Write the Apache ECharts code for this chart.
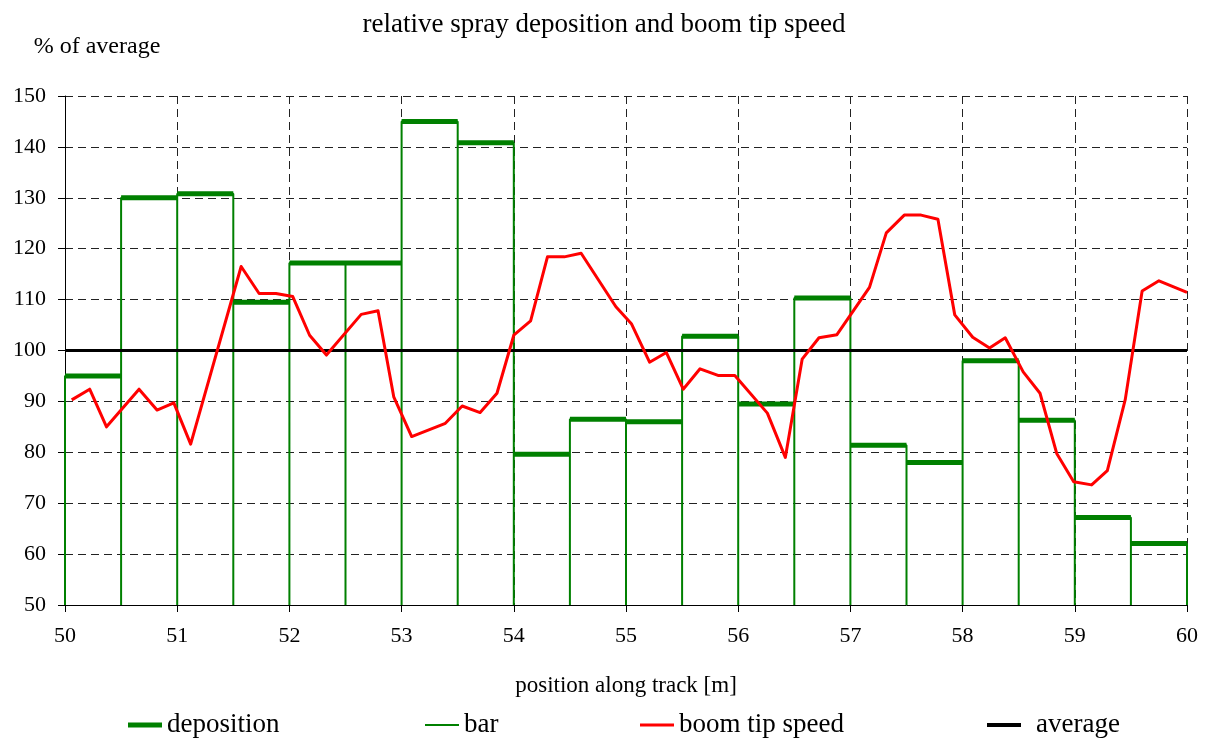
<!DOCTYPE html>
<html>
<head>
<meta charset="utf-8">
<script src="https://cdn.jsdelivr.net/npm/echarts@6/dist/echarts.min.js"></script>
<style>
html,body{margin:0;padding:0;background:#fff;}
#chart{width:1208px;height:738px;}
</style>
</head>
<body>
<div id="chart"></div>
<script>
// ---- data ----
const segmentStarts = [50,50.5,51,51.5,52,52.5,53,53.5,54,54.5,55,55.5,56,56.5,57,57.5,58,58.5,59,59.5];
const segmentWidth = 0.5;
const depositionValues = [95.0,130.0,130.8,109.5,117.2,117.2,145.0,140.8,79.6,86.5,86.0,102.8,89.5,110.3,81.4,78.0,98.0,86.3,67.2,62.1];
const speedPositions = [50.06,50.22,50.37,50.66,50.82,50.97,51.12,51.57,51.73,51.88,52.03,52.18,52.33,52.64,52.79,52.93,53.09,53.39,53.54,53.70,53.85,54.00,54.15,54.30,54.45,54.60,54.91,55.05,55.21,55.36,55.51,55.66,55.82,55.97,56.26,56.42,56.57,56.72,56.88,57.17,57.32,57.48,57.63,57.78,57.93,58.09,58.24,58.38,58.54,58.69,58.84,58.99,59.15,59.29,59.45,59.60,59.75,60.00];
const speedValues = [90.3,92.4,85.0,92.4,88.3,89.7,81.6,116.5,111.2,111.2,110.6,103.0,99.1,107.1,107.8,90.9,83.1,85.7,89.1,87.8,91.6,103.0,105.8,118.4,118.4,119.1,108.6,105.2,97.7,99.6,92.4,96.4,95.1,95.1,87.7,79.0,98.3,102.5,103.1,112.4,123.1,126.6,126.6,125.8,107.0,102.6,100.5,102.5,95.8,91.6,79.7,74.2,73.6,76.4,90.4,111.7,113.7,111.4];
const averageLevel = 100;
const xRange = [50, 60];
const yRange = [50, 150];
const seriesNames = ['deposition','bar','boom tip speed','average'];

// ---- build series data ----
const depositionData = [];
const barData = [];
segmentStarts.forEach((x0, i) => {
  const x1 = x0 + segmentWidth;
  const v = depositionValues[i];
  depositionData.push([x0, v], [x1, v], [x1, '-']);
  barData.push([x0, yRange[0]], [x0, v], [x1, v], [x1, yRange[0]], [x1, '-']);
});
const speedData = speedPositions.map((x, i) => [x, speedValues[i]]);
const averageData = [[xRange[0], averageLevel], [xRange[1], averageLevel]];

const FONT = 'Liberation Serif';
const GREEN = '#008000';

function legendAt(name, left, h, color, extraPad) {
  return {
    data: [{ name: name, icon: 'rect' }],
    left: left, top: 710, padding: 0,
    itemWidth: 34, itemHeight: h,
    itemStyle: { color: color, borderWidth: 0 },
    textStyle: { fontFamily: FONT, fontSize: 27, color: '#000', lineHeight: 30, padding: [0, 0, 0, extraPad || 0] },
    selectedMode: false
  };
}

const chart = echarts.init(document.getElementById('chart'), null, { renderer: 'canvas' });
chart.setOption({
  animation: false,
  backgroundColor: '#fff',
  title: {
    text: 'relative spray deposition and boom tip speed',
    left: 'center', top: 6,
    textStyle: { fontFamily: FONT, fontSize: 27, fontWeight: 'normal', color: '#000' }
  },
  legend: [
    legendAt(seriesNames[0], 128, 5, GREEN),
    legendAt(seriesNames[1], 425, 2, GREEN),
    legendAt(seriesNames[2], 640, 3, '#ff0000'),
    legendAt(seriesNames[3], 987, 4, '#000', 10)
  ],
  grid: { left: 65, right: 21, top: 96, bottom: 133, containLabel: false },
  xAxis: {
    type: 'value', min: xRange[0], max: xRange[1], interval: 1,
    name: 'position along track [m]', nameLocation: 'middle', nameGap: 69,
    nameTextStyle: { fontFamily: FONT, fontSize: 23, color: '#000' },
    axisLine: { lineStyle: { color: '#000', width: 1 } },
    axisTick: { show: true, length: 7, lineStyle: { color: '#000' } },
    axisLabel: { fontFamily: FONT, fontSize: 22, color: '#000', margin: 20 },
    splitLine: { show: true, lineStyle: { color: '#222', width: 1, type: [8, 5] } }
  },
  yAxis: {
    type: 'value', min: yRange[0], max: yRange[1], interval: 10,
    name: '% of average', nameLocation: 'end', nameGap: 37,
    nameTextStyle: { fontFamily: FONT, fontSize: 24, color: '#000', align: 'center', padding: [0, 0, 0, 64] },
    axisLine: { show: true, lineStyle: { color: '#000', width: 1 } },
    axisTick: { show: true, length: 7, lineStyle: { color: '#000' } },
    axisLabel: { fontFamily: FONT, fontSize: 22, color: '#000', margin: 19 },
    splitLine: { show: true, lineStyle: { color: '#222', width: 1, type: [8, 5] } }
  },
  series: [
    {
      name: seriesNames[1], type: 'line', data: barData, showSymbol: false, symbol: 'none',
      color: GREEN, itemStyle: { color: GREEN },
      lineStyle: { color: GREEN, width: 2 }, z: 2, clip: false
    },
    {
      name: seriesNames[0], type: 'line', data: depositionData, showSymbol: false, symbol: 'none',
      color: GREEN, itemStyle: { color: GREEN },
      lineStyle: { color: GREEN, width: 5 }, z: 3
    },
    {
      name: seriesNames[3], type: 'line', data: averageData, showSymbol: false, symbol: 'none',
      color: '#000', itemStyle: { color: '#000' },
      lineStyle: { color: '#000', width: 3 }, z: 4
    },
    {
      name: seriesNames[2], type: 'line', data: speedData, showSymbol: false, symbol: 'none',
      color: '#ff0000', itemStyle: { color: '#ff0000' },
      lineStyle: { color: '#ff0000', width: 3, join: 'round' }, z: 5
    }
  ]
});
</script>
</body>
</html>
